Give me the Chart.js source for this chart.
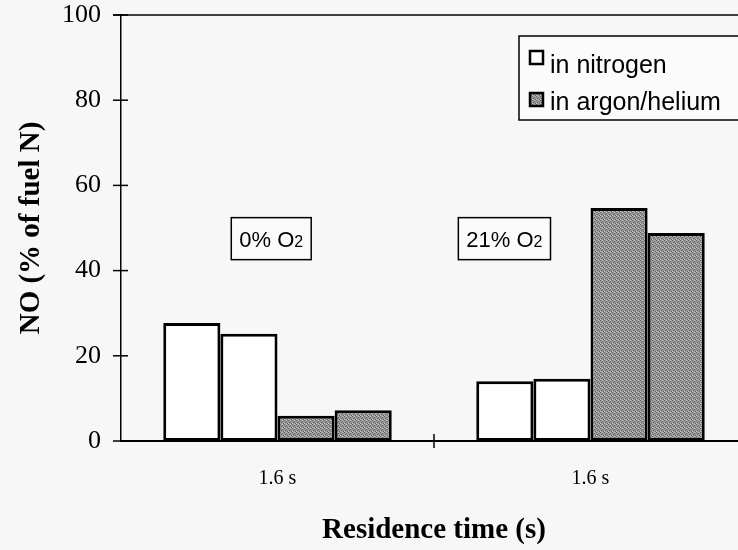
<!DOCTYPE html>
<html>
<head>
<meta charset="utf-8">
<script src="https://cdn.jsdelivr.net/npm/chart.js@4/dist/chart.umd.min.js"></script>
<style>
  html, body { margin: 0; padding: 0; background: #f7f7f7; overflow: hidden; }
  #wrap { width: 750px; height: 550px; }
</style>
</head>
<body>
<div id="wrap"><canvas id="myChart" width="750" height="550"></canvas></div>
<script>
// data
const labels = ['1.6 s', '1.6 s'];
const nitrogenRun1 = [27.7, 14.0];
const nitrogenRun2 = [25.2, 14.6];
const argonRun1 = [5.9, 54.7];
const argonRun2 = [7.2, 48.8];
const yTicks = [0, 20, 40, 60, 80, 100];
const legendNames = ['in nitrogen', 'in argon/helium'];
// boxed notes: [text, subscript, category position, y value]
const notes = [['0% O', '2', -0.02, 47.5], ['21% O', '2', 0.725, 47.5]];

const ctx = document.getElementById('myChart');

// stippled gray fill
const patCanvas = document.createElement('canvas');
patCanvas.width = 4; patCanvas.height = 4;
const pc = patCanvas.getContext('2d');
pc.fillStyle = '#9c9c9c';
pc.fillRect(0, 0, 4, 4);
pc.fillStyle = '#5e5e5e';
pc.fillRect(0, 0, 1, 1); pc.fillRect(2, 1, 1, 1); pc.fillRect(1, 2, 1, 1); pc.fillRect(3, 3, 1, 1);
pc.fillStyle = '#c4c4c4';
pc.fillRect(2, 0, 1, 1); pc.fillRect(0, 3, 1, 1);
const gray = pc.createPattern(patCanvas, 'repeat');
const white = '#ffffff';

const bgPlugin = {
  id: 'bg',
  beforeDraw(chart) {
    const c = chart.ctx;
    c.save();
    c.fillStyle = '#f7f7f7';
    c.fillRect(0, 0, chart.width, chart.height);
    c.restore();
  }
};

const decor = {
  id: 'decor',
  afterDraw(chart) {
    const c = chart.ctx;
    const a = chart.chartArea;
    const y = chart.scales.y;
    const x = chart.scales.x;
    c.save();
    c.strokeStyle = '#000';
    c.lineWidth = 1.5;
    // top frame
    c.beginPath();
    c.moveTo(a.left - 8, a.top);
    c.lineTo(chart.width, a.top);
    c.stroke();
    // y tick crosses
    yTicks.forEach(v => {
      const py = y.getPixelForValue(v);
      c.beginPath();
      c.moveTo(a.left - 8, py);
      c.lineTo(a.left + 7, py);
      c.stroke();
    });
    // x tick between groups
    const mid = x.getPixelForValue(0.5);
    c.beginPath();
    c.moveTo(mid, a.bottom - 7);
    c.lineTo(mid, a.bottom + 7);
    c.stroke();

    // notes
    notes.forEach(n => {
      const cx = x.getPixelForValue(n[2]);
      const cy = y.getPixelForValue(n[3]);
      c.font = '22px "Liberation Sans", Arial, sans-serif';
      const w1 = c.measureText(n[0]).width;
      c.font = '16px "Liberation Sans", Arial, sans-serif';
      const w2 = c.measureText(n[1]).width;
      const tw = w1 + w2;
      const bw = tw + 16, bh = 42;
      c.fillStyle = '#fbfbfb';
      c.fillRect(cx - bw / 2, cy - bh / 2, bw, bh);
      c.lineWidth = 1.5;
      c.strokeRect(cx - bw / 2, cy - bh / 2, bw, bh);
      c.fillStyle = '#000';
      c.textAlign = 'left';
      c.textBaseline = 'alphabetic';
      c.font = '22px "Liberation Sans", Arial, sans-serif';
      c.fillText(n[0], cx - tw / 2, cy + 8);
      c.font = '16px "Liberation Sans", Arial, sans-serif';
      c.fillText(n[1], cx - tw / 2 + w1, cy + 8);
    });

    // legend box
    const lx = 519, ly = 36;
    c.fillStyle = '#fbfbfb';
    c.fillRect(lx, ly, 260, 84);
    c.lineWidth = 1.5;
    c.strokeRect(lx, ly, 260, 84);
    const fills = [white, gray];
    c.font = '25px "Liberation Sans", Arial, sans-serif';
    c.textBaseline = 'alphabetic';
    legendNames.forEach((name, i) => {
      const sy = 51 + i * 42;
      c.fillStyle = fills[i];
      c.fillRect(530, sy, 13, 13);
      c.lineWidth = 2.5;
      c.strokeRect(530, sy, 13, 13);
      c.fillStyle = '#000';
      c.fillText(name, 550, 73 + i * 37);
    });
    c.restore();
  }
};

const barStyle = (fill) => ({
  backgroundColor: fill,
  borderColor: '#000',
  borderWidth: 3,
  borderSkipped: false,
  barPercentage: 1.0,
  categoryPercentage: 0.73
});

new Chart(ctx, {
  type: 'bar',
  data: {
    labels: labels,
    datasets: [
      Object.assign({ label: legendNames[0], data: nitrogenRun1 }, barStyle(white)),
      Object.assign({ label: legendNames[0], data: nitrogenRun2 }, barStyle(white)),
      Object.assign({ label: legendNames[1], data: argonRun1 }, barStyle(gray)),
      Object.assign({ label: legendNames[1], data: argonRun2 }, barStyle(gray))
    ]
  },
  options: {
    responsive: false,
    animation: false,
    layout: { padding: { top: 15, right: 3, left: 0, bottom: 0 } },
    plugins: {
      legend: { display: false },
      tooltip: { enabled: false }
    },
    scales: {
      x: {
        offset: true,
        grid: { display: false, drawTicks: false },
        border: { display: true, color: '#000', width: 2 },
        ticks: {
          color: '#000',
          padding: 26,
          font: { family: '"Liberation Serif", "Times New Roman", serif', size: 20 }
        },
        title: {
          display: true,
          text: 'Residence time (s)',
          color: '#000',
          padding: { top: 0, bottom: 2 },
          font: { family: '"Liberation Serif", "Times New Roman", serif', size: 29, weight: 'bold' }
        },
        afterFit(scale) {
          scale.height = 109;
          scale.paddingLeft = 0;
          scale.paddingRight = 0;
        }
      },
      y: {
        min: 0,
        max: 100,
        grid: { display: false, drawTicks: false },
        border: { display: true, color: '#000', width: 1.5 },
        ticks: {
          stepSize: 20,
          color: '#000',
          padding: 20,
          font: { family: '"Liberation Serif", "Times New Roman", serif', size: 26 }
        },
        title: {
          display: true,
          text: 'NO (% of fuel N)',
          color: '#000',
          padding: { top: 14, bottom: 14 },
          font: { family: '"Liberation Serif", "Times New Roman", serif', size: 29, weight: 'bold' }
        },
        afterFit(scale) {
          scale.width = 121;
          scale.paddingTop = 0;
          scale.paddingBottom = 0;
        }
      }
    }
  },
  plugins: [bgPlugin, decor]
});
</script>
</body>
</html>
